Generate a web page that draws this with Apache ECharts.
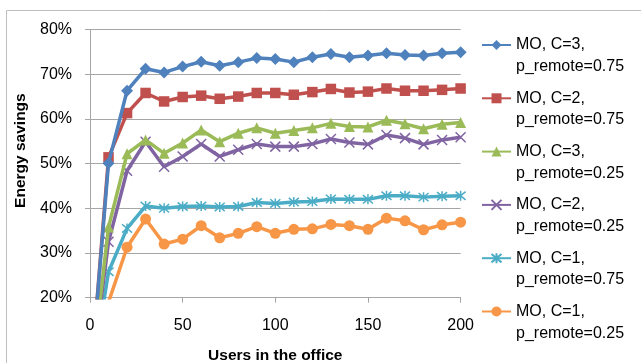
<!DOCTYPE html>
<html>
<head>
<meta charset="utf-8">
<script src="https://cdn.jsdelivr.net/npm/echarts@6/dist/echarts.min.js"></script>
<style>
  html, body { margin: 0; padding: 0; background: #fff; }
  #chart { width: 641px; height: 363px; }
</style>
</head>
<body>
<div id="chart"></div>
<script>
// Number of users in the office (x values)
const users = [0, 10, 20, 30, 40, 50, 60, 70, 80, 90, 100, 110, 120, 130, 140, 150, 160, 170, 180, 190, 200];

// Energy savings (%) per configuration
const moC3Remote075 = [0, 50.1, 66.3, 71.2, 70.4, 71.7, 72.8, 71.9, 72.7, 73.6, 73.4, 72.7, 73.8, 74.5, 73.8, 74.2, 74.7, 74.3, 74.2, 74.7, 74.9];
const moC2Remote075 = [0, 51.4, 61.3, 65.8, 63.9, 64.9, 65.2, 64.5, 65.0, 65.8, 65.8, 65.4, 66.0, 66.7, 65.9, 66.1, 66.8, 66.3, 66.3, 66.5, 66.8];
const moC3Remote025 = [0, 35.8, 52.2, 55.3, 52.3, 54.6, 57.5, 54.9, 56.8, 58.0, 56.8, 57.4, 58.0, 59.0, 58.3, 58.2, 59.7, 58.9, 57.8, 58.8, 59.2];
const moC2Remote025 = [0, 32.5, 48.4, 54.9, 49.3, 51.6, 54.4, 51.6, 53.1, 54.4, 53.8, 53.8, 54.4, 55.5, 54.7, 54.3, 56.4, 55.7, 54.3, 55.3, 55.9];
const moC1Remote075 = [0, 25.8, 35.5, 40.5, 40.0, 40.4, 40.5, 40.3, 40.4, 41.3, 41.1, 41.4, 41.5, 42.1, 42.0, 42.0, 42.8, 42.8, 42.5, 42.7, 42.8];
const moC1Remote025 = [0, 19.0, 31.3, 37.6, 32.0, 33.1, 36.1, 33.4, 34.4, 35.9, 34.4, 35.3, 35.4, 36.4, 36.1, 35.3, 37.8, 37.2, 35.2, 36.3, 36.9];

const seriesNames = [
  'MO, C=3,\np_remote=0.75',
  'MO, C=2,\np_remote=0.75',
  'MO, C=3,\np_remote=0.25',
  'MO, C=2,\np_remote=0.25',
  'MO, C=1,\np_remote=0.75',
  'MO, C=1,\np_remote=0.25'
];

// Axis settings
const yMin = 20, yMax = 80, yStep = 10;
const xMin = 0, xMax = 200, xStep = 50;

const FONT = 'Liberation Sans, Arial, sans-serif';
const GRID_GRAY = '#a6a6a6';
const LEGEND_LINE = 21.7;
const LEGEND_PITCH = 53.3;

const CROSS = 'path://M0,0L10,10M10,0L0,10';
const STAR = 'path://M0,0L10,10M10,0L0,10M5,-1L5,11';

const styles = [
  { color: '#4F81BD', symbol: 'diamond', size: 12, stroke: 0 },
  { color: '#C0504D', symbol: 'rect', size: 10.5, stroke: 0 },
  { color: '#9BBB59', symbol: 'triangle', size: 11, stroke: 0 },
  { color: '#8064A2', symbol: CROSS, size: 10, stroke: 1.5 },
  { color: '#4BACC6', symbol: STAR, size: 10, stroke: 1.5 },
  { color: '#F79646', symbol: 'circle', size: 11, stroke: 0 }
];

const values = [moC3Remote075, moC2Remote075, moC3Remote025, moC2Remote025, moC1Remote075, moC1Remote025];

function pairs(ys) {
  return users.map((u, i) => [u, ys[i]]);
}

const series = values.map((ys, k) => ({
  name: seriesNames[k],
  type: 'line',
  data: pairs(ys),
  clip: true,
  symbol: styles[k].symbol,
  symbolSize: styles[k].size,
  showAllSymbol: true,
  lineStyle: { color: styles[k].color, width: 3.5 },
  itemStyle: {
    color: styles[k].color,
    borderColor: styles[k].color,
    borderWidth: styles[k].stroke
  },
  emphasis: { disabled: true },
  animation: false,
  z: 10 - k
}));

const chart = echarts.init(document.getElementById('chart'), null, { renderer: 'canvas' });

chart.setOption({
  animation: false,
  backgroundColor: '#fff',
  graphic: [{
    type: 'rect',
    silent: true,
    z: -10,
    shape: { x: 6.5, y: 10.5, width: 700, height: 400 },
    style: { fill: 'none', stroke: '#bfbfbf', lineWidth: 1 }
  }],
  grid: {
    left: 90, top: 29.5, width: 370.6, height: 268.2,
    containLabel: false,
    outerBoundsMode: 'none'
  },
  legend: {
    orient: 'vertical',
    left: 481,
    // each entry is three text rows tall; the middle row sits level with the symbol
    top: 45 - 1.5 * LEGEND_LINE,
    padding: 0,
    itemGap: LEGEND_PITCH - 3 * LEGEND_LINE,
    itemWidth: 29,
    itemHeight: 12.5,
    selectedMode: false,
    formatter: name => '\n' + name,
    textStyle: {
      fontFamily: FONT,
      fontSize: 16,
      color: '#000',
      lineHeight: LEGEND_LINE
    },
    data: seriesNames
  },
  xAxis: {
    type: 'value',
    min: xMin, max: xMax, interval: xStep,
    name: 'Users in the office',
    nameLocation: 'middle',
    nameGap: 50,
    nameTextStyle: { fontFamily: FONT, fontSize: 15.5, fontWeight: 'bold', color: '#000' },
    axisLine: { show: true, lineStyle: { color: GRID_GRAY, width: 1 } },
    axisTick: { show: true, length: 5, lineStyle: { color: GRID_GRAY } },
    axisLabel: { fontFamily: FONT, fontSize: 16, color: '#000', margin: 20 },
    splitLine: { show: false }
  },
  yAxis: {
    type: 'value',
    min: yMin, max: yMax, interval: yStep,
    name: 'Energy savings',
    nameLocation: 'middle',
    nameGap: 59,
    nameTextStyle: {
      fontFamily: FONT, fontSize: 15.5, fontWeight: 'bold', color: '#000',
      // lift the title a little above the centre of the axis
      padding: [0, 0, 0, 26]
    },
    axisLine: { show: true, lineStyle: { color: GRID_GRAY, width: 1 } },
    axisTick: { show: true, length: 5, lineStyle: { color: GRID_GRAY } },
    axisLabel: { fontFamily: FONT, fontSize: 16, color: '#000', margin: 18, formatter: '{value}%' },
    splitLine: { show: true, lineStyle: { color: GRID_GRAY, width: 1 } }
  },
  series: series
});
</script>
</body>
</html>
